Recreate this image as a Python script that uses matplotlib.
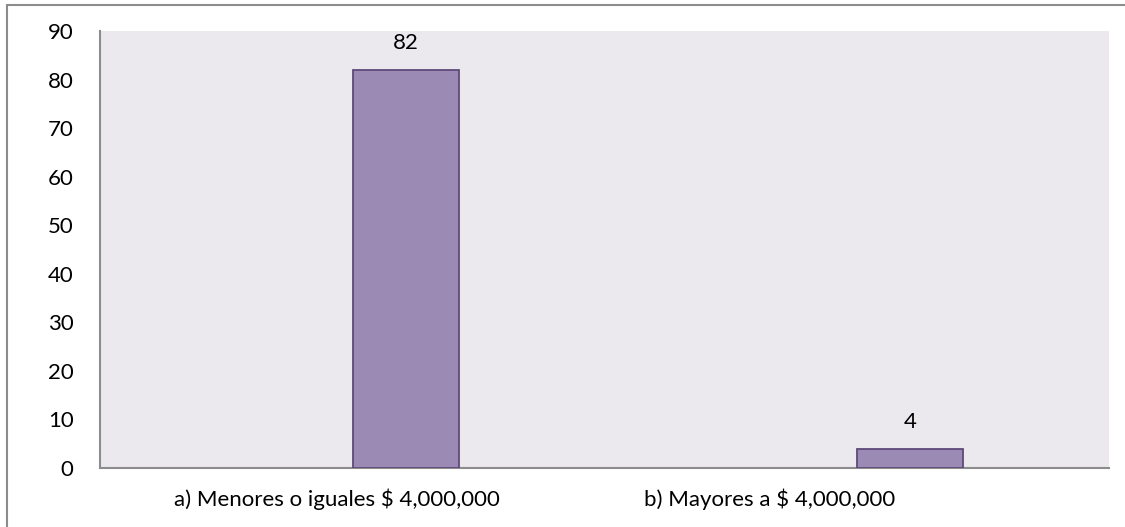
import matplotlib
matplotlib.use("Agg")
import matplotlib.pyplot as plt
from matplotlib.patches import Rectangle
import numpy as np

categories = ["a) Menores o iguales $ 4,000,000", "b) Mayores a $ 4,000,000"]
values = [82, 4]
yticks = [0, 10, 20, 30, 40, 50, 60, 70, 80, 90]

plt.rcParams['font.family'] = ['Lato', 'DejaVu Sans']

fig = plt.figure(figsize=(11.25, 5.27), dpi=100)
fig.patch.set_facecolor('white')
ax = fig.add_axes([100/1125, 59/527, 1009/1125, 437/527])
ax.set_facecolor('#EBE8EE')

idx = np.arange(len(categories))
bar_x = idx + 0.606
label_x = idx + 0.47 - idx * 0.142
ax.bar(bar_x, values, width=0.21, color='#9B8AB4', edgecolor='#5F497A', linewidth=1.3, zorder=3)
for x, v in zip(bar_x, values):
    ax.annotate(str(v), (x, v), xytext=(0, 12), textcoords='offset points',
                ha='center', va='bottom', fontsize=16, color='black')

ax.set_xlim(0, 2)
ax.set_ylim(0, 90)
ax.set_yticks(yticks)
ax.set_yticklabels([str(t) for t in yticks], fontsize=16)
ax.set_xticks(label_x)
ax.set_xticklabels(categories, fontsize=16)
ax.tick_params(axis='both', length=0, colors='black')
ax.tick_params(axis='y', pad=19)
ax.tick_params(axis='x', pad=15)
for s in ['top', 'right']:
    ax.spines[s].set_visible(False)
for s in ['left', 'bottom']:
    ax.spines[s].set_color('#8C8C8C')
    ax.spines[s].set_linewidth(1.5)

fig.patches.append(Rectangle((6.5/1125, -0.5), 2, (527-4.5)/527 + 0.5,
                             transform=fig.transFigure, fill=False,
                             edgecolor='#8C8C8C', linewidth=1.5))

fig.savefig('out.png', dpi=100)
